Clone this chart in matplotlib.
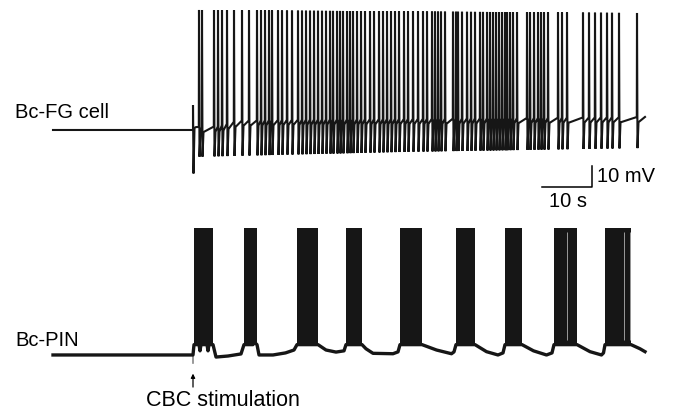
import numpy as np
import matplotlib
matplotlib.use("Agg")
import matplotlib.pyplot as plt

plt.rcParams['font.family'] = ['Liberation Sans', 'DejaVu Sans']

# recording window (s); CBC stimulation given at stim_t
stim_t = 28.0
end_t = 118.4

# Bc-FG cell: spike times (s)
fg_spikes = [29.2, 29.8, 32.2, 33.0, 33.8, 34.8, 36.2, 37.8, 39.2, 40.8,
             41.6, 42.4, 43.2, 43.8, 45.0, 45.8, 46.8, 47.8, 49.0, 49.8,
             50.6, 51.4, 52.2, 53.0, 53.8, 54.6, 55.4, 56.0, 56.8, 57.4,
             58.0, 58.8, 59.4, 60.0, 60.8, 61.6, 62.4, 63.4, 64.2, 65.2,
             66.0, 66.8, 67.6, 68.4, 69.2, 70.2, 71.0, 72.0, 73.0, 74.0,
             74.8, 75.8, 76.4, 77.0, 77.6, 78.4, 80.0, 80.6, 81.0, 81.8,
             82.8, 83.6, 84.4, 85.4, 86.0, 86.8, 87.4, 88.0, 88.6, 89.2,
             89.8, 90.4, 90.8, 91.4, 92.0, 92.8, 94.8, 95.4, 96.2, 97.0,
             97.6, 98.2, 99.0, 101.0, 101.8, 102.8, 106.0, 107.2, 108.4, 109.6,
             110.8, 111.8, 113.2, 116.8]
fg_rest = -60.0
# slow interspike level, spike peaks and troughs (mV)
fg_base_t = [28.5, 33.0, 37.0, 50.0, 80.0, 118.4]
fg_base_v = [-58.6, -58.3, -55.5, -55.0, -54.5, -53.7]
fg_peak_t = [28.0, 118.4]
fg_peak_v = [-2.0, -3.5]
fg_trough_t = [28.0, 70.0, 118.4]
fg_trough_v = [-73.0, -70.6, -68.7]

# Bc-PIN: bursts (s) and burst envelope (mV)
pin_burst_start = [28.2, 38.2, 48.8, 58.6, 69.4, 80.6, 90.4, 100.2, 110.4]
pin_burst_end = [32.0, 40.8, 53.0, 61.8, 73.8, 84.4, 93.8, 104.8, 115.6]
pin_burst_top = 1.3
pin_burst_floor = -55.0
pin_gaps = [102.7, 114.2, 115.3]
# slow membrane trace of Bc-PIN (s, mV)
pin_t = [0, 28.0, 28.2, 29.2, 29.4, 29.6, 30.8, 31.0, 31.2, 32.0,
         32.6, 35.0, 37.6, 38.2, 40.0, 40.2, 40.8, 41.2, 44.0, 46.5,
         48.2, 48.8, 53.0, 54.6, 56.6, 58.2, 58.6, 61.8, 62.6, 64.0,
         68.0, 69.0, 69.4, 73.8, 76.7, 79.7, 80.2, 80.6, 84.4, 86.7,
         89.0, 90.0, 90.4, 93.8, 96.1, 98.7, 99.8, 100.2, 104.8, 107.4,
         109.7, 110.1, 110.4, 115.6, 117.4, 118.4]
pin_v = [-60, -60, -55, -55, -58, -55, -55, -58, -55, -55,
         -61, -60.5, -59.5, -55, -55, -53.7, -55, -60, -60, -59,
         -57.6, -55, -55, -57.6, -58.6, -58.0, -55, -55, -57.0, -59.2,
         -59.4, -58.5, -55, -55, -57.6, -59.4, -58.5, -55, -55, -58.4,
         -60, -59, -55, -55, -58, -60, -59, -55, -55, -58.4,
         -60, -59, -55, -55, -57, -58.4]

# vertical placement of the two traces (plot units = mV)
off_top = 197.7
off_bot = 89.0

fig = plt.figure(figsize=(6.73, 4.15), dpi=100)
ax = fig.add_axes([0, 0, 1, 1])
ax.set_xlim(-10.6, 124.0)
ax.set_ylim(0, 200.5)
ax.axis('off')

# --- Bc-FG cell trace ---
base = np.interp(fg_spikes, fg_base_t, fg_base_v)
peak = np.interp(fg_spikes, fg_peak_t, fg_peak_v)
trough = np.interp(fg_spikes, fg_trough_t, fg_trough_v)
tt = [0, stim_t, stim_t, stim_t + 0.1, stim_t + 0.3, stim_t + 0.6]
vv = [fg_rest, fg_rest, -48, -81, -59, -58.6]
for t, b, pk, tr in zip(fg_spikes, base, peak, trough):
    tt += [t - 0.04, t, t + 0.1, t + 0.3]
    vv += [b, pk, tr, b - 2.5]
tt.append(end_t)
vv.append(fg_base_v[-1])
ax.plot(tt, np.array(vv) + off_top, color='#161616', lw=1.5,
        solid_joinstyle='miter')
ax.text(15 / 673, 1 - 113 / 415, 'Bc-FG cell', transform=ax.transAxes,
        fontsize=14.5, va='center', ha='left')

# --- Bc-PIN trace ---
ax.plot([stim_t, stim_t], [-60 + off_bot, -64 + off_bot], color='#888888', lw=1.2)
ax.plot(pin_t, np.array(pin_v) + off_bot, color='#161616', lw=2.4)
for s, e in zip(pin_burst_start, pin_burst_end):
    ax.fill_between([s, e], pin_burst_floor + off_bot, pin_burst_top + off_bot,
                    color='#161616', lw=0)
ax.vlines(pin_gaps, pin_burst_floor + 2 + off_bot, pin_burst_top - 2 + off_bot,
          color='#b0b0b0', lw=0.6)
ax.text(15 / 673, 1 - 340 / 415, 'Bc-PIN', transform=ax.transAxes,
        fontsize=14.5, va='center', ha='left')

# stimulation marker
ax.annotate('', xy=(stim_t, -69 + off_bot), xytext=(stim_t, -75.5 + off_bot),
            arrowprops=dict(arrowstyle='-|>', color='k', lw=0.9,
                            mutation_scale=6, shrinkA=0, shrinkB=0))
ax.text(223 / 673, 1 - 400 / 415, 'CBC stimulation', transform=ax.transAxes,
        fontsize=15.5, va='center', ha='center')

# scale bar: 10 s, 10 mV
sb_y = 110.1
ax.plot([97.8, 107.8, 107.8], [sb_y, sb_y, sb_y + 10], color='k', lw=1.1)
ax.text(597 / 673, 1 - 176 / 415, '10 mV', transform=ax.transAxes,
        fontsize=14.5, va='center', ha='left')
ax.text(568 / 673, 1 - 201 / 415, '10 s', transform=ax.transAxes,
        fontsize=14.5, va='center', ha='center')

fig.savefig('out.png', dpi=100)
